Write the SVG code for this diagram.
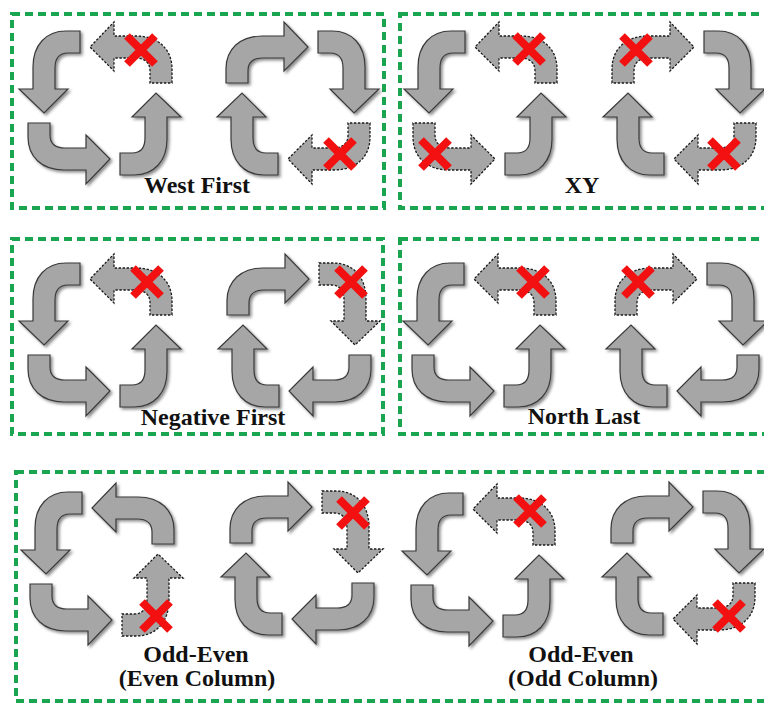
<svg xmlns="http://www.w3.org/2000/svg" xmlns:xlink="http://www.w3.org/1999/xlink" width="764" height="704" viewBox="0 0 764 704">
<style>
.box{fill:none;stroke:#1aa550;stroke-width:4;stroke-dasharray:8 5}
.s{fill:#a6a6a6;stroke:#3a3a3a;stroke-width:1.2}
.d{fill:#a6a6a6;stroke:#1a1a1a;stroke-width:1.3;stroke-dasharray:2.4 1.6}
.lbl{font-family:"Liberation Serif","Times New Roman",serif;font-weight:bold;font-size:24px;fill:#111;text-anchor:middle}
</style>
<defs>
<filter id="sh" x="-20%" y="-20%" width="140%" height="140%">
<feDropShadow dx="2" dy="2" stdDeviation="1.5" flood-color="#000" flood-opacity="0.45"/>
</filter>
<path id="a" d="M-20,-72 L-34,-72 C-54,-72 -67,-58 -67,-36 L-67,-14 L-81,-14 L-56,10 L-32,-14 L-45,-14 L-45,-35 C-45,-44 -41,-50 -32,-50 L-20,-50 Z"/>
<g id="x"><path d="M-14,-14 L14,14 M14,-14 L-14,14" stroke="#f21010" stroke-width="8" fill="none"/></g>
</defs>
<rect width="764" height="704" fill="#fff"/>

<g id="connectors"></g>

<g id="box-west-first"><rect class="box" x="12" y="14" width="372" height="194"/><text class="lbl" x="197" y="193">West First</text></g>
<g id="box-xy"><rect class="box" x="400" y="14" width="380" height="194"/><text class="lbl" x="582" y="193">XY</text></g>
<g id="box-negative-first"><rect class="box" x="12" y="239" width="371" height="195"/><text class="lbl" x="213" y="425">Negative First</text></g>
<g id="box-north-last"><rect class="box" x="400" y="239" width="380" height="195"/><text class="lbl" x="584" y="424">North Last</text></g>
<g id="box-odd-even"><rect class="box" x="16" y="472" width="780" height="229"/>
<text class="lbl" x="196" y="662">Odd-Even</text><text class="lbl" x="197" y="686">(Even Column)</text>
<text class="lbl" x="581" y="662">Odd-Even</text><text class="lbl" x="583" y="686">(Odd Column)</text></g>

<!-- West First left (CCW), TR prohibited -->
<g id="wf-left">
<g filter="url(#sh)" transform="translate(100,103)"><use href="#a" class="s"/><use href="#a" class="s" transform="rotate(-90)"/><use href="#a" class="s" transform="rotate(180)"/></g>
<g transform="translate(100,103)"><use href="#a" class="d" transform="rotate(90)"/></g>
<use href="#x" transform="translate(141,50)"/>
</g>
<!-- West First right (CW), BR prohibited -->
<g id="wf-right">
<g filter="url(#sh)" transform="translate(298,103)"><g transform="scale(-1,1)"><use href="#a" class="s" transform="rotate(90)"/><use href="#a" class="s"/><use href="#a" class="s" transform="rotate(180)"/></g></g>
<g transform="translate(298,103) scale(-1,1)"><use href="#a" class="d" transform="rotate(-90)"/></g>
<use href="#x" transform="translate(340,154)"/>
</g>
<!-- XY left (CCW), TR, BL prohibited -->
<g id="xy-left">
<g filter="url(#sh)" transform="translate(485,103)"><use href="#a" class="s"/><use href="#a" class="s" transform="rotate(180)"/></g>
<g transform="translate(485,103)"><use href="#a" class="d" transform="rotate(90)"/><use href="#a" class="d" transform="rotate(-90)"/></g>
<use href="#x" transform="translate(529,49)"/><use href="#x" transform="translate(435,154)"/>
</g>
<!-- XY right (CW), TL, BR prohibited -->
<g id="xy-right">
<g filter="url(#sh)" transform="translate(684,103)"><g transform="scale(-1,1)"><use href="#a" class="s"/><use href="#a" class="s" transform="rotate(180)"/></g></g>
<g transform="translate(684,103) scale(-1,1)"><use href="#a" class="d" transform="rotate(90)"/><use href="#a" class="d" transform="rotate(-90)"/></g>
<use href="#x" transform="translate(636,50)"/><use href="#x" transform="translate(724,154)"/>
</g>

<!-- Negative First left (CCW), TR prohibited -->
<g id="nf-left">
<g filter="url(#sh)" transform="translate(100,335)"><use href="#a" class="s"/><use href="#a" class="s" transform="rotate(-90)"/><use href="#a" class="s" transform="rotate(180)"/></g>
<g transform="translate(100,335)"><use href="#a" class="d" transform="rotate(90)"/></g>
<use href="#x" transform="translate(147,282)"/>
</g>
<!-- Negative First right (CW), TR prohibited -->
<g id="nf-right">
<g filter="url(#sh)" transform="translate(299,335)"><g transform="scale(-1,1)"><use href="#a" class="s" transform="rotate(90)"/><use href="#a" class="s" transform="rotate(-90)"/><use href="#a" class="s" transform="rotate(180)"/></g></g>
<g transform="translate(299,335) scale(-1,1)"><use href="#a" class="d"/></g>
<use href="#x" transform="translate(351,282)"/>
</g>
<!-- North Last left (CCW), TR prohibited -->
<g id="nl-left">
<g filter="url(#sh)" transform="translate(484,335)"><use href="#a" class="s"/><use href="#a" class="s" transform="rotate(-90)"/><use href="#a" class="s" transform="rotate(180)"/></g>
<g transform="translate(484,335)"><use href="#a" class="d" transform="rotate(90)"/></g>
<use href="#x" transform="translate(533,282)"/>
</g>
<!-- North Last right (CW), TL prohibited -->
<g id="nl-right">
<g filter="url(#sh)" transform="translate(687,335)"><g transform="scale(-1,1)"><use href="#a" class="s"/><use href="#a" class="s" transform="rotate(-90)"/><use href="#a" class="s" transform="rotate(180)"/></g></g>
<g transform="translate(687,335) scale(-1,1)"><use href="#a" class="d" transform="rotate(90)"/></g>
<use href="#x" transform="translate(638,282)"/>
</g>

<!-- Odd-Even even column left (CCW), BR prohibited -->
<g id="oe-even-left">
<g filter="url(#sh)" transform="translate(102,564)"><use href="#a" class="s"/><use href="#a" class="s" transform="rotate(-90)"/><use href="#a" class="s" transform="rotate(90)"/></g>
<g transform="translate(102,564)"><use href="#a" class="d" transform="rotate(180)"/></g>
<use href="#x" transform="translate(156,616)"/>
</g>
<!-- Odd-Even even column right (CW), TR prohibited -->
<g id="oe-even-right">
<g filter="url(#sh)" transform="translate(302,563)"><g transform="scale(-1,1)"><use href="#a" class="s" transform="rotate(90)"/><use href="#a" class="s" transform="rotate(-90)"/><use href="#a" class="s" transform="rotate(180)"/></g></g>
<g transform="translate(302,563) scale(-1,1)"><use href="#a" class="d"/></g>
<use href="#x" transform="translate(353,513)"/>
</g>
<!-- Odd-Even odd column left (CCW), TR prohibited -->
<g id="oe-odd-left">
<g filter="url(#sh)" transform="translate(483,565)"><use href="#a" class="s"/><use href="#a" class="s" transform="rotate(-90)"/><use href="#a" class="s" transform="rotate(180)"/></g>
<g transform="translate(483,565)"><use href="#a" class="d" transform="rotate(90)"/></g>
<use href="#x" transform="translate(530,511)"/>
</g>
<!-- Odd-Even odd column right (CW), BR prohibited -->
<g id="oe-odd-right">
<g filter="url(#sh)" transform="translate(683,563)"><g transform="scale(-1,1)"><use href="#a" class="s" transform="rotate(90)"/><use href="#a" class="s"/><use href="#a" class="s" transform="rotate(180)"/></g></g>
<g transform="translate(683,563) scale(-1,1)"><use href="#a" class="d" transform="rotate(-90)"/></g>
<use href="#x" transform="translate(729,616)"/>
</g>
</svg>
